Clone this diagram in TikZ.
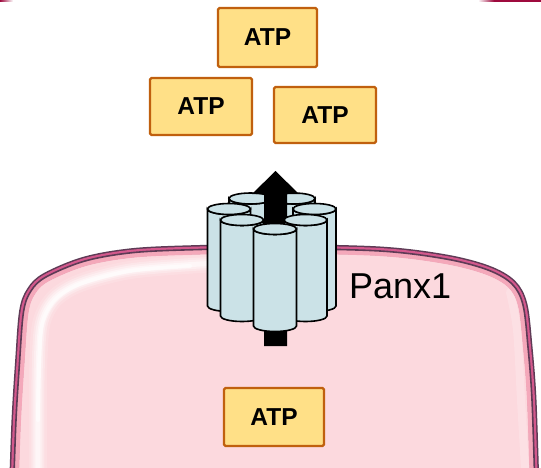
\documentclass[tikz,border=0pt]{standalone}
\usepackage{fontspec}
\setmainfont{Liberation Sans}
\begin{document}
\definecolor{cellfill}{HTML}{FCD9DE}
\definecolor{memdark}{HTML}{5E3B56}
\definecolor{memmag}{HTML}{D3588C}
\definecolor{memlight}{HTML}{F4A8BA}
\definecolor{cylblue}{HTML}{CBE2E7}
\definecolor{atpfill}{HTML}{FFE087}
\definecolor{atpedge}{HTML}{C0600E}
\definecolor{crimson}{HTML}{9E0A3E}
\tikzset{
  cellshape/.style={insert path={plot[smooth, tension=0.55] coordinates {
      (13.5,490) (16,420) (19.5,363) (23.5,312) (31,291) (46,277) (85,261)
      (134,252.5) (200,249.5) (272,248.5) (380,251) (446,259) (488,270)
      (512,284) (523,305) (528,347) (532,400) (535,490)} -- cycle}},
  glow/.style={white, line cap=round, line width=#1},
  cylface/.style={fill=cylblue, draw=black, line width=1.6pt},
  atpbox/.style={draw=atpedge, fill=atpfill, line width=2.2pt, rounded corners=1.5pt,
    inner sep=0pt, font=\bfseries\fontsize{24.5}{28}\selectfont},
  label/.style={inner sep=0pt, anchor=base west, font=\fontsize{36}{40}\selectfont}
}
% one cylinder of the channel: centre x, top y, bottom y
\newcommand\pcyl[3]{%
  \filldraw[cylface] (#1-21.5,#2) -- (#1-21.5,#3)
    arc[start angle=180, end angle=0, x radius=21.5, y radius=5.5]
    -- (#1+21.5,#2)
    arc[start angle=0, end angle=180, x radius=21.5, y radius=5.5] -- cycle;
  \filldraw[cylface] (#1,#2) ellipse[x radius=21.5, y radius=5.5];}
\begin{tikzpicture}[x=1pt, y=-1pt]
  \useasboundingbox (0,0) rectangle (541,468);
  \clip (0,0) rectangle (541,468);
  \fill[white] (0,0) rectangle (541,468);

  % edge of the frame above
  \shade[left color=crimson, right color=white] (0,0) rectangle (13,1.6);
  \shade[left color=white, right color=crimson] (478,0) rectangle (494,1.8);
  \fill[crimson] (494,0) rectangle (541,1.8);

  % cell body with a soft sheen along the upper left
  \fill[cellfill, cellshape];
  \begin{scope}
    \clip[cellshape];
    \foreach \w/\o in {18/0.15, 13/0.25, 9/0.35, 5/0.5} {
      \draw[glow=\w pt, opacity=\o]
        plot[smooth] coordinates {(38,470) (38,380) (41,325) (54,299) (80,283) (130,270) (200,264) (240,263)};
    }
    \draw[glow=4pt, opacity=0.6]
      plot[smooth] coordinates {(38,420) (39,370) (42,325) (55,300) (80,284) (130,271) (190,266)};
    \draw[glow=8pt, opacity=0.2]
      plot[smooth] coordinates {(510,292) (517,330) (521,400) (525,468)};
  \end{scope}

  % membrane
  \draw[memdark, line width=9pt, cellshape];
  \draw[memmag, line width=6pt, cellshape];
  \begin{scope}
    \clip[cellshape];
    \draw[memlight, line width=10pt, cellshape];
  \end{scope}
  \draw[memdark, line width=1.6pt, cellshape];

  % Panx1 channel with outward ATP flow
  \pcyl{250.5}{198.5}{294}
  \pcyl{293.5}{198.5}{294}
  \fill[black] (264,346) -- (264,194) -- (252,194) -- (275.5,171) -- (299,194)
    -- (287,194) -- (287,346) -- cycle;
  \pcyl{229}{209}{306}
  \pcyl{314.5}{209}{306}
  \pcyl{242}{220}{316}
  \pcyl{305.5}{220}{316}
  \pcyl{275}{229}{326}

  \node[label] (panx) at (349,298) {Panx1};

  % ATP outside and inside the cell
  \node[atpbox, minimum width=99pt, minimum height=59pt] (atp1) at (267.5,37.5) {ATP};
  \node[atpbox, minimum width=102pt, minimum height=57pt] (atp2) at (201,106.5) {ATP};
  \node[atpbox, minimum width=102pt, minimum height=56pt] (atp3) at (325,115) {ATP};
  \node[atpbox, minimum width=100pt, minimum height=58pt] (atp4) at (274,417) {ATP};
\end{tikzpicture}
\end{document}
